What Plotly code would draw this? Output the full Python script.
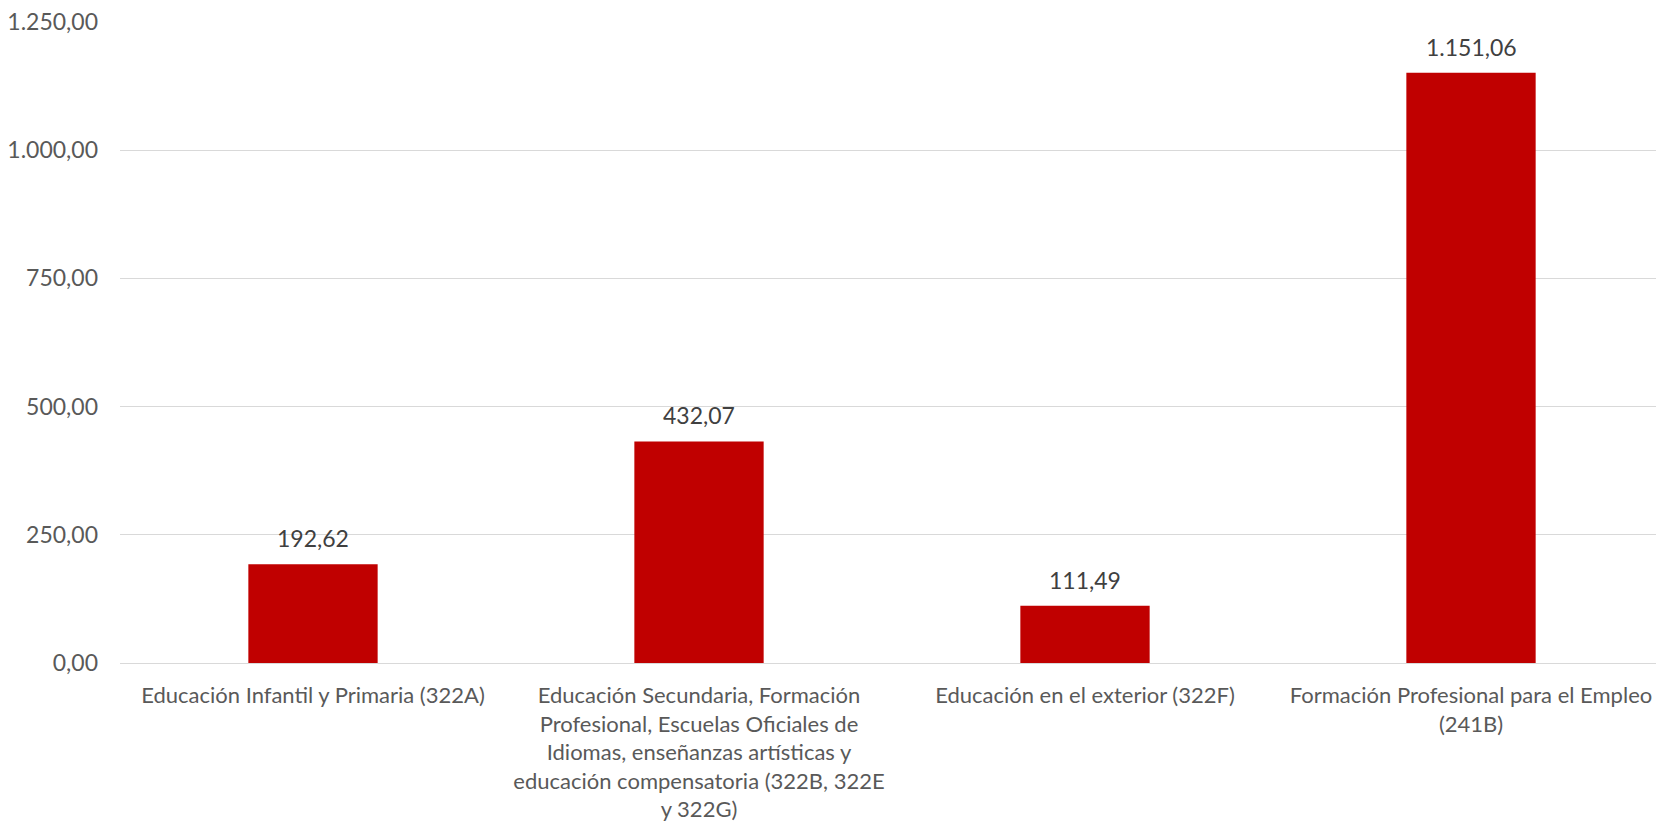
import plotly.graph_objects as go

categories = [
    "Educación Infantil y Primaria (322A)",
    "Educación Secundaria, Formación<br>Profesional, Escuelas Oficiales de<br>Idiomas, enseñanzas artísticas y<br>educación compensatoria (322B, 322E<br>y 322G)",
    "Educación en el exterior (322F)",
    "Formación Profesional para el Empleo<br>(241B)",
]
values = [192.62, 432.07, 111.49, 1151.06]
labels = ["192,62", "432,07", "111,49", "1.151,06"]
y_ticks = [0, 250, 500, 750, 1000, 1250]

FONT = "Lato"
FS = 23

fig = go.Figure()
fig.add_trace(go.Bar(
    x=categories, y=values,
    marker=dict(color="#C00000", line=dict(width=0)),
    width=0.335,
    hoverinfo="skip",
))

for c, v, t in zip(categories, values, labels):
    fig.add_annotation(x=c, y=v, text=t, showarrow=False, yanchor="bottom",
                       yshift=10, font=dict(family=FONT, size=FS, color="#404040"))

fig.update_layout(
    width=1656, height=817,
    margin=dict(l=112, r=0, t=14, b=162, autoexpand=False),
    plot_bgcolor="white", paper_bgcolor="white",
    separators=",.",
    showlegend=False,
    font=dict(family=FONT, size=FS, color="#595959"),
    xaxis=dict(
        showgrid=False, showline=False, ticks="", tickangle=0,
        automargin=False, ticklabelstandoff=17, ticklabeloverflow="allow",
        tickfont=dict(family=FONT, size=22, color="#595959"),
    ),
    yaxis=dict(
        range=[0, 1250], tickvals=y_ticks, tickformat=",.2f",
        showgrid=True, gridcolor="#D9D9D9", gridwidth=1.3,
        zeroline=True, zerolinecolor="#D9D9D9", zerolinewidth=1.3,
        showline=False, ticks="", ticklabelstandoff=21, automargin=False,
        ticklabeloverflow="allow",
        tickfont=dict(family=FONT, size=FS, color="#595959"),
    ),
)

fig.write_html("out.html")
